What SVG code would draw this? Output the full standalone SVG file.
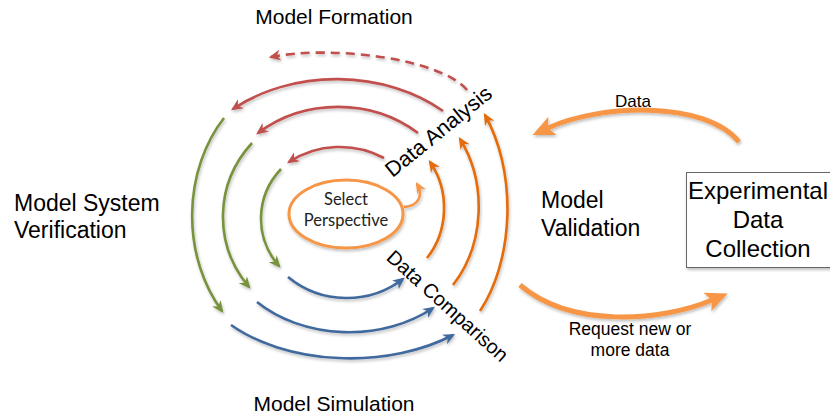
<svg xmlns="http://www.w3.org/2000/svg" width="830" height="417" viewBox="0 0 830 417">
  <style>
    .lbl { font-family: "Liberation Sans", Arial, sans-serif; fill: #000; }
    .big { font-size: 21px; }
    .side { font-size: 23px; }
    .small { font-size: 17.5px; }
    .arc { fill: none; stroke-width: 2.6; }
    .red { stroke: #C0504D; }
    .green { stroke: #77933C; }
    .blue { stroke: #41699E; }
    .orange { stroke: #E46C0A; }
    .thick { fill: none; stroke: #F79646; stroke-width: 5; }
  </style>
  <defs>
    <filter id="shadow" x="-10%" y="-10%" width="130%" height="130%">
      <feDropShadow dx="1" dy="2" stdDeviation="1.5" flood-color="#000" flood-opacity="0.25"/>
    </filter>
    <marker id="ah-red" viewBox="0 0 10 10" markerUnits="userSpaceOnUse" markerWidth="12" markerHeight="12" refX="8" refY="5" orient="auto">
      <path d="M0,0.5 L10,5 L0,9.5 L3,5 z" fill="#C0504D"/>
    </marker>
    <marker id="ah-green" viewBox="0 0 10 10" markerUnits="userSpaceOnUse" markerWidth="12" markerHeight="12" refX="8" refY="5" orient="auto">
      <path d="M0,0.5 L10,5 L0,9.5 L3,5 z" fill="#77933C"/>
    </marker>
    <marker id="ah-blue" viewBox="0 0 10 10" markerUnits="userSpaceOnUse" markerWidth="12" markerHeight="12" refX="8" refY="5" orient="auto">
      <path d="M0,0.5 L10,5 L0,9.5 L3,5 z" fill="#41699E"/>
    </marker>
    <marker id="ah-orange" viewBox="0 0 10 10" markerUnits="userSpaceOnUse" markerWidth="12" markerHeight="12" refX="8" refY="5" orient="auto">
      <path d="M0,0.5 L10,5 L0,9.5 L3,5 z" fill="#E46C0A"/>
    </marker>
    <marker id="ah-light" viewBox="0 0 10 10" markerUnits="userSpaceOnUse" markerWidth="11" markerHeight="11" refX="8" refY="5" orient="auto">
      <path d="M0,0.5 L10,5 L0,9.5 L3,5 z" fill="#F79646"/>
    </marker>
    <marker id="ah-thick" viewBox="0 0 22 20" markerUnits="userSpaceOnUse" markerWidth="22" markerHeight="20" refX="5" refY="10" orient="auto">
      <path d="M0,0 L22,10 L0,20 L5,10 z" fill="#F79646"/>
    </marker>
  </defs>

  <rect width="830" height="417" fill="#fff"/>

  <!-- connectors -->
  <g id="connectors" filter="url(#shadow)">
    <!-- model formation (top, red) -->
    <path class="arc red" d="M467,90 C440,58 330,45 271,57" stroke-dasharray="9,6" marker-end="url(#ah-red)"/>
    <path class="arc red" d="M443,111 A158,122 0 0 0 233,109" marker-end="url(#ah-red)"/>
    <path class="arc red" d="M418,133 A127,117 0 0 0 258,133" marker-end="url(#ah-red)"/>
    <path class="arc red" d="M384,158 A91,88 0 0 0 289,162" marker-end="url(#ah-red)"/>
    <!-- verification (left, green) -->
    <path class="arc green" d="M224,118 A112,140 0 0 0 222,311" marker-end="url(#ah-green)"/>
    <path class="arc green" d="M252,143 A120,113 0 0 0 249,287" marker-end="url(#ah-green)"/>
    <path class="arc green" d="M281,169 A80,75 0 0 0 279,266" marker-end="url(#ah-green)"/>
    <!-- simulation (bottom, blue) -->
    <path class="arc blue" d="M231,325 A158,97 0 0 0 453,335" marker-end="url(#ah-blue)"/>
    <path class="arc blue" d="M257,302 A127,97 0 0 0 433,308" marker-end="url(#ah-blue)"/>
    <path class="arc blue" d="M288,277 A91,89 0 0 0 403,279" marker-end="url(#ah-blue)"/>
    <!-- validation (right, orange) -->
    <path class="arc orange" d="M480,311 A87,140 0 0 0 485,115" marker-end="url(#ah-orange)"/>
    <path class="arc orange" d="M453,285 A93,113 0 0 0 460,139" marker-end="url(#ah-orange)"/>
    <path class="arc orange" d="M427,258 A67,75 0 0 0 430,162" marker-end="url(#ah-orange)"/>
    <!-- perspective hook -->
    <path class="arc" stroke="#F79646" d="M404,207 C418,206 424,196 417,184" marker-end="url(#ah-light)"/>
    <!-- experimental data exchange -->
    <path class="thick" d="M739,142 C705,100 600,104 548,128" marker-end="url(#ah-thick)"/>
    <path class="thick" d="M520,285 C570,328 660,322 712,300" marker-end="url(#ah-thick)"/>
  </g>

  <g id="select-perspective">
    <ellipse cx="346" cy="214" rx="57" ry="34" fill="#fff" stroke="#F79646" stroke-width="3" filter="url(#shadow)"/>
    <text x="346" y="205" text-anchor="middle" font-family="Lato, 'Open Sans', sans-serif" font-size="16.5" fill="#222">Select</text>
    <text x="346" y="226" text-anchor="middle" font-family="Lato, 'Open Sans', sans-serif" font-size="16.5" fill="#222">Perspective</text>
  </g>

  <g id="experimental-data-collection">
    <rect x="686.5" y="172.5" width="145" height="95" fill="#fff" stroke="#666" stroke-width="1" filter="url(#shadow)"/>
    <text class="lbl" x="758" y="199" text-anchor="middle" font-size="24">Experimental</text>
    <text class="lbl" x="758" y="228" text-anchor="middle" font-size="24">Data</text>
    <text class="lbl" x="758" y="257" text-anchor="middle" font-size="24">Collection</text>
  </g>

  <g id="model-formation">
    <text class="lbl big" x="334" y="24" text-anchor="middle">Model Formation</text>
  </g>
  <g id="model-system-verification">
    <text class="lbl side" x="14" y="211">Model System</text>
    <text class="lbl side" x="14" y="238">Verification</text>
  </g>
  <g id="model-simulation">
    <text class="lbl big" x="334" y="411" text-anchor="middle">Model Simulation</text>
  </g>
  <g id="model-validation">
    <text class="lbl side" x="541" y="208">Model</text>
    <text class="lbl side" x="541" y="236">Validation</text>
  </g>

  <g id="data-analysis">
    <text class="lbl" font-size="21.5" text-anchor="middle" transform="translate(443,137) rotate(-39)">Data Analysis</text>
  </g>
  <g id="data-comparison">
    <text class="lbl" font-size="20" text-anchor="middle" transform="translate(443,311) rotate(42)">Data Comparison</text>
  </g>

  <g id="data-label">
    <text class="lbl" x="633" y="107" text-anchor="middle" font-size="17">Data</text>
  </g>
  <g id="request-label">
    <text class="lbl small" x="630" y="335" text-anchor="middle">Request new or</text>
    <text class="lbl small" x="630" y="356" text-anchor="middle">more data</text>
  </g>
</svg>
